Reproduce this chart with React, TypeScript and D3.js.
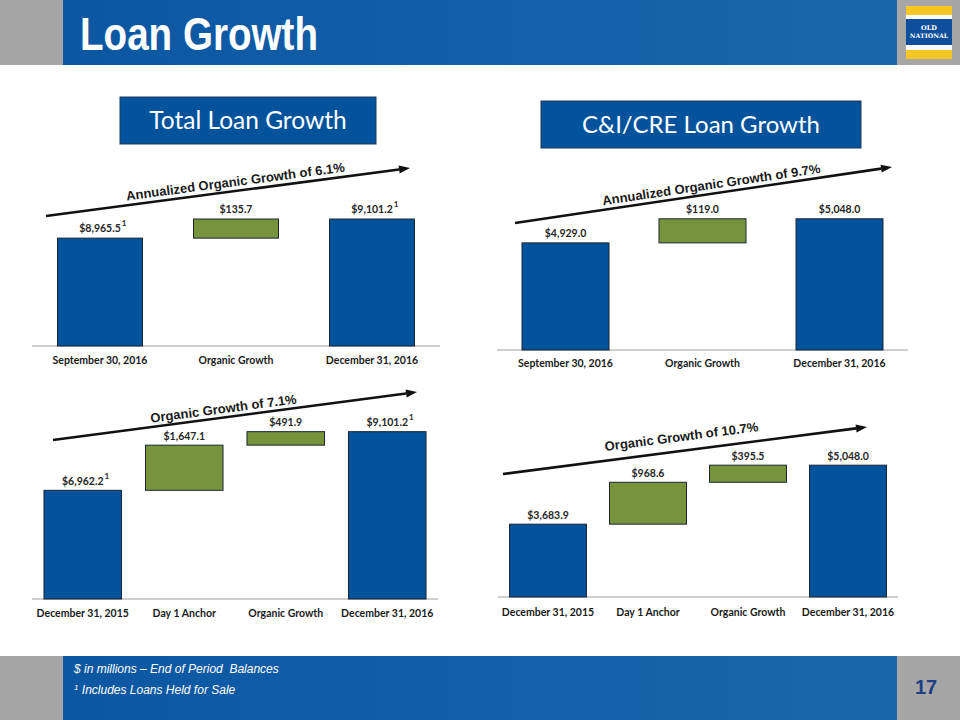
import React from "react";
import * as d3 from "d3";

// ---------- data ----------
const qtrCategories = ["September 30, 2016", "Organic Growth", "December 31, 2016"];
const yearCategories = ["December 31, 2015", "Day 1 Anchor", "Organic Growth", "December 31, 2016"];
const totalQtrValues = [8965.5, 135.7, 9101.2];
const cicreQtrValues = [4929.0, 119.0, 5048.0];
const totalYearValues = [6962.2, 1647.1, 491.9, 9101.2];
const cicreYearValues = [3683.9, 968.6, 395.5, 5048.0];
const qtrKinds = ["total", "delta", "total"];
const yearKinds = ["total", "delta", "delta", "total"];
const totalQtrFootnotes = [true, false, true];
const cicreQtrFootnotes = [false, false, false];
const totalYearFootnotes = [true, false, false, true];
const cicreYearFootnotes = [false, false, false, false];
const growthLabels = [
  "Annualized Organic Growth of 6.1%",
  "Annualized Organic Growth of 9.7%",
  "Organic Growth of 7.1%",
  "Organic Growth of 10.7%",
];
const panelTitles = ["Total Loan Growth", "C&I/CRE Loan Growth"];
const yDomains: [number, number][] = [
  [8200, 9300],
  [4400, 5200],
  [3000, 10000],
  [2000, 6000],
];
const slideTitle = "Loan Growth";
const footnoteLines = ["$ in millions \u2013 End of Period\u00a0 Balances", "Includes Loans Held for Sale"];
const pageNumber = "17";

// ---------- styles ----------
const BLUE = "#02529c";
const GREEN = "#77933c";
const OUTLINE = "#1c2733";
const CAL = "Lato, 'Open Sans', sans-serif";
const ARIAL = "'Liberation Sans', Arial, sans-serif";
const fmt = d3.format("$,.1f");

type Panel = {
  cats: string[];
  values: number[];
  kinds: string[];
  foot: boolean[];
  label: string;
  domain: [number, number];
  xRange: [number, number];
  pad: number;
  axisY: number;
  yTop: number;
  catY: number;
  arrow: [[number, number], [number, number]];
  textPos: [number, number];
  labelGap: number;
};

const panels: Panel[] = [
  {
    cats: qtrCategories, values: totalQtrValues, kinds: qtrKinds, foot: totalQtrFootnotes,
    label: growthLabels[0], domain: yDomains[0], xRange: [32, 440], pad: 0.375,
    axisY: 346, yTop: 191, catY: 364, arrow: [[46, 216], [410, 168]], textPos: [236, 186], labelGap: 6,
  },
  {
    cats: qtrCategories, values: cicreQtrValues, kinds: qtrKinds, foot: cicreQtrFootnotes,
    label: growthLabels[1], domain: yDomains[1], xRange: [497, 908], pad: 0.365,
    axisY: 350, yTop: 188, catY: 367, arrow: [[515, 223], [892, 167]], textPos: [712, 189], labelGap: 6,
  },
  {
    cats: yearCategories, values: totalYearValues, kinds: yearKinds, foot: totalYearFootnotes,
    label: growthLabels[2], domain: yDomains[2], xRange: [32, 438], pad: 0.236,
    axisY: 599, yTop: 407, catY: 617, arrow: [[53, 440], [417, 392]], textPos: [224, 413], labelGap: 5.5,
  },
  {
    cats: yearCategories, values: cicreYearValues, kinds: yearKinds, foot: cicreYearFootnotes,
    label: growthLabels[3], domain: yDomains[3], xRange: [498, 898], pad: 0.23,
    axisY: 597, yTop: 424, catY: 616, arrow: [[503, 474], [867, 427]], textPos: [682, 441], labelGap: 5.5,
  },
];

function Waterfall({ p }: { p: Panel }) {
  const x = d3.scaleBand<string>().domain(p.cats).range(p.xRange).paddingInner(p.pad).paddingOuter(p.pad / 2);
  const y = d3.scaleLinear().domain(p.domain).range([p.axisY, p.yTop]);
  let running = p.domain[0];
  const bars = p.values.map((v, i) => {
    let y0: number, y1: number;
    if (p.kinds[i] === "total") {
      y0 = p.domain[0];
      y1 = v;
      running = v;
    } else {
      y0 = running;
      y1 = running + v;
      running = y1;
    }
    return { cat: p.cats[i], v, y0, y1, kind: p.kinds[i], foot: p.foot[i] };
  });
  const [[ax0, ay0], [ax1, ay1]] = p.arrow;
  const ang = (Math.atan2(ay1 - ay0, ax1 - ax0) * 180) / Math.PI;
  const len = Math.hypot(ax1 - ax0, ay1 - ay0);
  const ux = (ax1 - ax0) / len;
  const uy = (ay1 - ay0) / len;
  const headLen = 11, headW = 4;
  const bx = ax1 - ux * headLen, by = ay1 - uy * headLen;
  const head = `M${ax1},${ay1} L${bx - uy * headW},${by + ux * headW} L${bx + uy * headW},${by - ux * headW} Z`;
  return (
    <g>
      <line x1={p.xRange[0]} x2={p.xRange[1]} y1={p.axisY} y2={p.axisY} stroke="#bfbfbf" strokeWidth={1.5} />
      {bars.map((b, i) => {
        const bx0 = x(b.cat)!;
        const top = y(Math.max(b.y0, b.y1));
        const bottom = y(Math.min(b.y0, b.y1));
        const cx = bx0 + x.bandwidth() / 2;
        return (
          <g key={i}>
            <rect x={bx0} y={top} width={x.bandwidth()} height={bottom - top}
              fill={b.kind === "total" ? BLUE : GREEN} stroke={OUTLINE} strokeWidth={1} />
            <text x={cx} y={top - p.labelGap} textAnchor="middle" fontFamily={CAL} fontWeight={700}
              fontSize={10.5} fill="#262626">{fmt(b.v)}</text>
            {b.foot && (
              <text x={cx + 24} y={top - p.labelGap - 6} textAnchor="middle" fontFamily={CAL}
                fontWeight={700} fontSize={8} fill="#262626">1</text>
            )}
            <text x={cx} y={p.catY} textAnchor="middle" fontFamily={CAL} fontWeight={700}
              fontSize={10.5} fill="#1a1a1a">{b.cat}</text>
          </g>
        );
      })}
      <line x1={ax0} y1={ay0} x2={bx} y2={by} stroke="#111" strokeWidth={2.6} />
      <path d={head} fill="#111" />
      <text transform={`translate(${p.textPos[0]},${p.textPos[1]}) rotate(${ang})`} textAnchor="middle"
        fontFamily={ARIAL} fontWeight={700} fontSize={13} fill="#1a1a1a">{p.label}</text>
    </g>
  );
}

export default function App() {
  return (
    <svg width={960} height={720} style={{ position: "absolute", left: 0, top: 0, background: "#fff" }}>
      <defs>
        <linearGradient id="hdr" x1="0" x2="1" y1="0" y2="0">
          <stop offset="0" stopColor="#0b57a2" />
          <stop offset="1" stopColor="#1c66ad" />
        </linearGradient>
      </defs>
      {/* header */}
      <rect x={0} y={0} width={63} height={65} fill="#a6a6a6" />
      <rect x={63} y={0} width={834} height={65} fill="url(#hdr)" />
      <rect x={897} y={0} width={63} height={65} fill="#a6a6a6" />
      <text x={80} y={50} fontFamily="'Liberation Sans Narrow', 'Arial Narrow', 'Liberation Sans', sans-serif"
        fontWeight={700} fontSize={46} fill="#fff" textLength={238} lengthAdjust="spacingAndGlyphs">{slideTitle}</text>
      {/* logo */}
      <rect x={906} y={6} width={46} height={53} fill="#f6c624" />
      <rect x={906} y={15} width={46} height={30} fill="#fff" />
      <rect x={906} y={19} width={46} height={26} fill="#0d4f9c" />
      <rect x={906} y={45} width={46} height={5} fill="#fff" />
      <text x={929} y={30} textAnchor="middle" fontFamily="'DejaVu Serif', serif" fontWeight={700} fontSize={6.5} fill="#fff">OLD</text>
      <text x={929} y={38} textAnchor="middle" fontFamily="'DejaVu Serif', serif" fontWeight={700} fontSize={6.3} fill="#fff">NATIONAL</text>

      {/* panel titles */}
      <rect x={120} y={97} width={256} height={47} fill={BLUE} stroke="#1f3b5c" strokeWidth={1} />
      <text x={248} y={129} textAnchor="middle" fontFamily={CAL} fontSize={24.5} fill="#fff">{panelTitles[0]}</text>
      <rect x={541} y={101} width={320} height={47} fill={BLUE} stroke="#1f3b5c" strokeWidth={1} />
      <text x={701} y={133} textAnchor="middle" fontFamily={CAL} fontSize={24} fill="#fff">{panelTitles[1]}</text>

      {panels.map((p, i) => (
        <Waterfall key={i} p={p} />
      ))}

      {/* footer */}
      <rect x={0} y={656} width={63} height={64} fill="#a6a6a6" />
      <rect x={63} y={656} width={834} height={64} fill="url(#hdr)" />
      <rect x={897} y={656} width={63} height={64} fill="#a6a6a6" />
      <text x={74} y={672.5} fontFamily={ARIAL} fontStyle="italic" fontSize={12} fill="#fff">{footnoteLines[0]}</text>
      <text x={74} y={694} fontFamily={ARIAL} fontStyle="italic" fontSize={12} fill="#fff">
        <tspan fontSize={8} dy={-4}>1</tspan>
        <tspan dy={4}> {footnoteLines[1]}</tspan>
      </text>
      <text x={926} y={694} textAnchor="middle" fontFamily={ARIAL} fontWeight={700} fontSize={20} fill="#1c3f82">{pageNumber}</text>
    </svg>
  );
}
